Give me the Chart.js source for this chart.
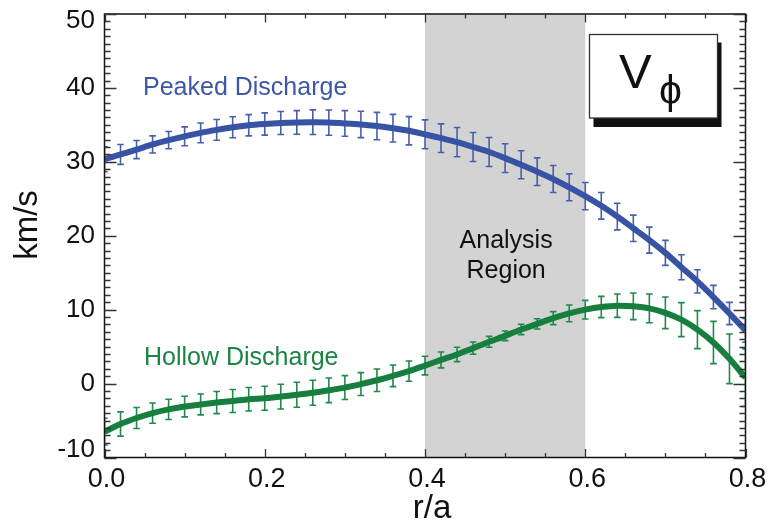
<!DOCTYPE html>
<html>
<head>
<meta charset="utf-8">
<title>V_phi profiles</title>
<script src="https://cdn.jsdelivr.net/npm/chart.js@4.4.1/dist/chart.umd.min.js"></script>
<style>
  html, body { margin: 0; padding: 0; background: #fff; }
  #wrap { position: relative; width: 768px; height: 527px; }
</style>
</head>
<body>
<div id="wrap"><canvas id="vphi"></canvas></div>
<script>
// r/a sample points
const radius = [0.00, 0.02, 0.04, 0.06, 0.08, 0.10, 0.12, 0.14, 0.16, 0.18,
  0.20, 0.22, 0.24, 0.26, 0.28, 0.30, 0.32, 0.34, 0.36, 0.38,
  0.40, 0.42, 0.44, 0.46, 0.48, 0.50, 0.52, 0.54, 0.56, 0.58,
  0.60, 0.62, 0.64, 0.66, 0.68, 0.70, 0.72, 0.74, 0.76, 0.78, 0.80];

// toroidal velocity, km/s
const peakedV = [30.35, 31.0, 31.66, 32.35, 32.93, 33.45, 33.92, 34.32, 34.68, 34.95,
  35.12, 35.25, 35.33, 35.36, 35.31, 35.2, 35.06, 34.84, 34.55, 34.2,
  33.72, 33.2, 32.66, 32.0, 31.33, 30.5, 29.6, 28.67, 27.68, 26.55,
  25.36, 24.05, 22.6, 21.01, 19.41, 17.68, 15.74, 13.83, 11.71, 9.48, 7.2];
const peakedErr = [1.7, 1.35, 1.22, 1.16, 1.17, 1.28, 1.33, 1.4, 1.42, 1.44,
  1.5, 1.55, 1.6, 1.67, 1.71, 1.73, 1.78, 1.85, 1.87, 1.91,
  1.96, 1.94, 1.98, 1.96, 1.96, 1.94, 1.89, 1.87, 1.82, 1.82,
  1.85, 1.8, 1.8, 1.78, 1.76, 1.69, 1.69, 1.58, 1.58, 1.51, 1.6];

const hollowV = [-6.5, -5.47, -4.66, -3.99, -3.49, -3.11, -2.82, -2.57, -2.36, -2.12,
  -1.98, -1.76, -1.51, -1.24, -0.91, -0.54, -0.07, 0.45, 1.05, 1.69,
  2.44, 3.2, 3.94, 4.8, 5.65, 6.46, 7.32, 8.08, 8.85, 9.5,
  10.0, 10.36, 10.54, 10.45, 10.18, 9.57, 8.65, 7.3, 5.56, 3.35, 0.8];
const hollowErr = [1.8, 1.64, 1.42, 1.37, 1.37, 1.4, 1.42, 1.49, 1.55, 1.58,
  1.62, 1.67, 1.69, 1.69, 1.67, 1.62, 1.55, 1.53, 1.46, 1.37,
  1.26, 1.08, 0.97, 0.83, 0.74, 0.65, 0.7, 0.7, 0.88, 1.13,
  1.26, 1.44, 1.58, 1.8, 1.94, 2.14, 2.3, 2.57, 2.86, 3.36, 3.9];

const xTicks = [0, 0.2, 0.4, 0.6, 0.8];
const xTickLabels = ['0.0', '0.2', '0.4', '0.6', '0.8'];
const yTicks = [-10, 0, 10, 20, 30, 40, 50];
const yTickLabels = ['-10', '0', '10', '20', '30', '40', '50'];
const analysisRegion = [0.4, 0.6];

const BLUE = '#3953a4';
const GREEN = '#167f3f';
const FONT = '"Liberation Sans", Arial, Helvetica, sans-serif';

const toPoints = (vals) => radius.map((r, i) => ({ x: r, y: vals[i] }));

const overlay = {
  id: 'overlay',
  beforeDatasetsDraw(chart) {
    const { ctx, chartArea: a, scales: { x, y } } = chart;
    ctx.save();
    // shaded analysis band
    const x0 = x.getPixelForValue(analysisRegion[0]);
    const x1 = x.getPixelForValue(analysisRegion[1]);
    ctx.fillStyle = '#d3d3d3';
    ctx.fillRect(x0, a.top, x1 - x0, a.bottom - a.top);

    // error bars, under the curves
    ctx.beginPath();
    ctx.rect(a.left, a.top, a.right - a.left, a.bottom - a.top);
    ctx.clip();
    const sets = [[peakedV, peakedErr, '#4660ad'], [hollowV, hollowErr, '#208a49']];
    sets.forEach(([vals, errs, col]) => {
      ctx.strokeStyle = col;
      ctx.lineWidth = 1.6;
      radius.forEach((r, i) => {
        const px = x.getPixelForValue(r);
        const top = y.getPixelForValue(vals[i] + errs[i]);
        const bot = y.getPixelForValue(vals[i] - errs[i]);
        ctx.beginPath();
        ctx.moveTo(px, top); ctx.lineTo(px, bot);
        ctx.moveTo(px - 3.3, top); ctx.lineTo(px + 3.3, top);
        ctx.moveTo(px - 3.3, bot); ctx.lineTo(px + 3.3, bot);
        ctx.stroke();
      });
    });
    ctx.restore();
  },
  afterDraw(chart) {
    const { ctx, chartArea: a, scales: { x, y } } = chart;
    ctx.save();

    // frame
    ctx.strokeStyle = '#111';
    ctx.lineWidth = 1.5;
    ctx.strokeRect(a.left, a.top, a.right - a.left, a.bottom - a.top);

    // inward ticks on all four sides
    ctx.strokeStyle = '#333';
    ctx.lineWidth = 1.3;
    ctx.beginPath();
    for (let k = 0; k <= 16; k++) {
      const v = k * 0.05;
      const px = Math.round(x.getPixelForValue(v)) + 0.5;
      const len = k % 4 === 0 ? 8.5 : 4.5;
      ctx.moveTo(px, a.bottom); ctx.lineTo(px, a.bottom - len);
      ctx.moveTo(px, a.top); ctx.lineTo(px, a.top + len);
    }
    for (let v = -10; v <= 50; v++) {
      const py = Math.round(y.getPixelForValue(v)) + 0.5;
      const len = v % 10 === 0 ? 12 : 6;
      ctx.moveTo(a.left, py); ctx.lineTo(a.left + len, py);
      ctx.moveTo(a.right, py); ctx.lineTo(a.right - len, py);
    }
    ctx.stroke();

    // tick labels
    ctx.fillStyle = '#111';
    ctx.font = '26px ' + FONT;
    ctx.textAlign = 'right';
    ctx.textBaseline = 'middle';
    yTicks.forEach((v, i) => {
      let py = y.getPixelForValue(v);
      if (i === 0) py -= 8;
      if (i === yTicks.length - 1) py += 7;
      ctx.fillText(yTickLabels[i], a.left - 9.5, py);
    });
    ctx.font = '27px ' + FONT;
    ctx.textAlign = 'center';
    ctx.textBaseline = 'alphabetic';
    xTicks.forEach((v, i) => {
      ctx.fillText(xTickLabels[i], x.getPixelForValue(v) + 2, 487);
    });

    // axis titles
    ctx.font = '33px ' + FONT;
    ctx.fillText('r/a', 432, 518);
    ctx.save();
    ctx.translate(37, 225);
    ctx.rotate(-Math.PI / 2);
    ctx.fillText('km/s', 0, 0);
    ctx.restore();

    // curve names and band caption
    ctx.font = '25px ' + FONT;
    ctx.textAlign = 'left';
    ctx.fillStyle = '#3d57a8';
    ctx.fillText('Peaked Discharge', 143, 95);
    ctx.fillStyle = '#1a8445';
    ctx.fillText('Hollow Discharge', 144, 365);
    ctx.fillStyle = '#111';
    ctx.textAlign = 'center';
    const bandMid = (x.getPixelForValue(analysisRegion[0]) + x.getPixelForValue(analysisRegion[1])) / 2;
    ctx.fillText('Analysis', bandMid + 1, 248);
    ctx.fillText('Region', bandMid + 1, 278);

    // V_phi label box with drop shadow
    ctx.fillStyle = '#111';
    ctx.fillRect(593.5, 42.5, 128, 84.5);
    ctx.fillStyle = '#fff';
    ctx.fillRect(589.5, 34.5, 128, 83.5);
    ctx.strokeStyle = '#333';
    ctx.lineWidth = 1.3;
    ctx.strokeRect(589.5, 34.5, 128, 83.5);
    ctx.fillStyle = '#111';
    ctx.textAlign = 'left';
    ctx.font = '49px ' + FONT;
    ctx.fillText('V', 619, 87.5);
    ctx.textAlign = 'center';
    ctx.font = '41px ' + FONT;
    ctx.fillText('\u03d5', 670.5, 104);

    ctx.restore();
  }
};

new Chart(document.getElementById('vphi'), {
  type: 'line',
  data: {
    datasets: [
      {
        label: 'Peaked Discharge',
        data: toPoints(peakedV),
        borderColor: BLUE,
        borderWidth: 6,
        pointRadius: 0,
        tension: 0.3,
        fill: false,
      },
      {
        label: 'Hollow Discharge',
        data: toPoints(hollowV),
        borderColor: GREEN,
        borderWidth: 6,
        pointRadius: 0,
        tension: 0.3,
        fill: false,
      },
    ],
  },
  options: {
    responsive: true,
    maintainAspectRatio: false,
    animation: false,
    layout: { padding: { top: 14, right: 22.5, left: 0, bottom: 0 } },
    plugins: { legend: { display: false }, tooltip: { enabled: false } },
    scales: {
      x: {
        type: 'linear',
        min: 0,
        max: 0.8,
        grid: { display: false },
        border: { display: false },
        ticks: { display: false },
        afterFit: (s) => { s.height = 69.5; },
      },
      y: {
        min: -10,
        max: 50,
        grid: { display: false },
        border: { display: false },
        ticks: { display: false },
        afterFit: (s) => { s.width = 104.5; },
      },
    },
  },
  plugins: [overlay],
});
</script>
</body>
</html>
